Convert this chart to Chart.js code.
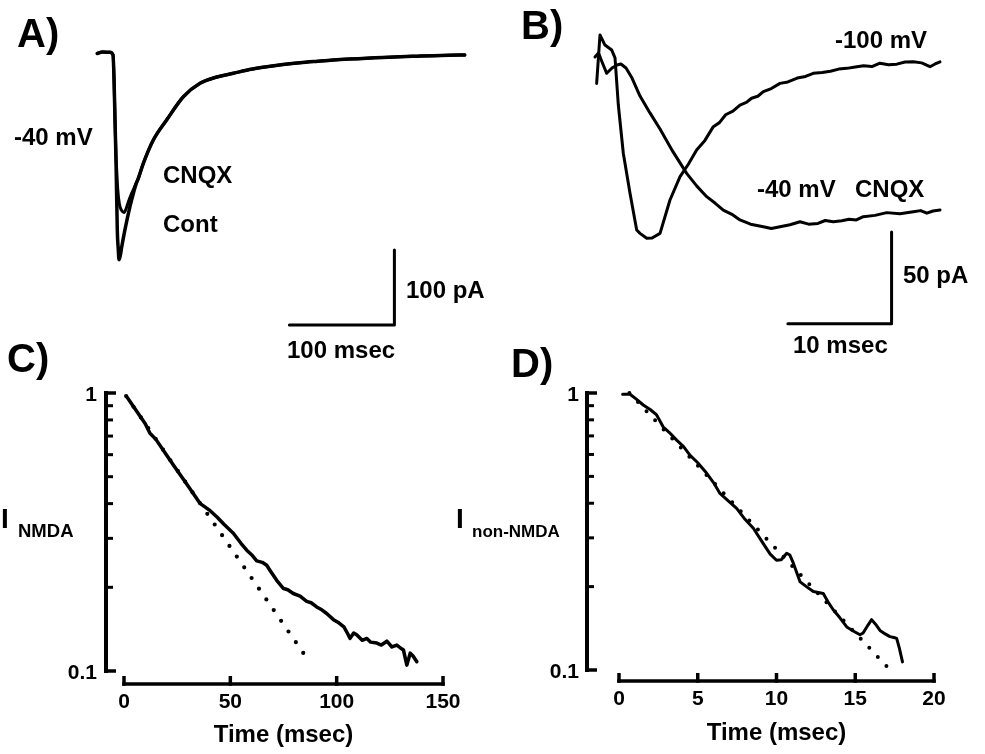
<!DOCTYPE html>
<html>
<head>
<meta charset="utf-8">
<script src="https://cdn.jsdelivr.net/npm/chart.js@4/dist/chart.umd.min.js"></script>
<style>
  html, body { margin: 0; padding: 0; background: #fff; }
  #fig { position: relative; width: 985px; height: 754px; overflow: hidden; background: #fff; }
  #fig canvas { position: absolute; left: 0; top: 0; }
</style>
</head>
<body>
<div id="fig">
  <canvas id="panelA" width="985" height="754"></canvas>
  <canvas id="panelB" width="985" height="754"></canvas>
  <canvas id="panelC" width="985" height="754"></canvas>
  <canvas id="panelD" width="985" height="754"></canvas>
</div>
<script>
// ---- Panel A: EPSC at -40 mV, control vs CNQX (time in ms, current in pA) ----
const aContHeadT = [-15, -10, -3, 0, 1, 2, 2.9, 4.1, 5.0, 5.7, 7.0, 8.3, 11.4, 16.2, 19.3, 22];
const aContHeadI = [-1, 1, 0.5, -3, -36, -95, -147, -237, -262, -276, -270, -259, -236, -205, -188, -175];
const aCnqxHeadT = [-15, -10, -3, 0, 1, 2, 2.9, 3.5, 4.5, 6.0, 8.0, 10.5, 12.5, 14.6, 17.0, 19.3, 22];
const aCnqxHeadI = [-1, 1, 0.5, -3, -36, -95, -140, -156, -182, -201, -210, -213, -208, -199, -190, -183, -174];
const aTailT = [24, 28.9, 38.4, 51.1, 67, 82.9, 100, 114.6, 130, 146.4, 162, 178, 195, 209.8, 225, 241.6, 257, 273.3, 290, 305, 320, 335];
const aTailI = [-168, -147.5, -116.4, -89.7, -58.7, -40.8, -32, -27.5, -22.5, -18.7, -15.8, -13.3, -11.3, -9.7, -8.5, -7.5, -6.3, -5.3, -4.6, -4, -3.5, -3.1];
const aBarT = [168, 268, 268];      // 100 msec
const aBarI = [-363, -363, -263];   // 100 pA

// ---- Panel B: -100 mV vs -40 mV in CNQX ----
const bFastT = [0.16, 0.48, 0.96, 1.61, 1.93, 2.25, 2.73, 3.38, 4.02, 4.34, 4.99, 5.5, 6.27, 7.23, 8.2, 9.0, 9.8, 10.6, 11.41, 12.0, 12.6, 13.3, 13.98, 14.6, 15.1, 15.7, 16.23, 17.0, 17.84, 18.6, 19.5, 20.3, 21.05, 21.9, 22.7, 23.5, 24.27, 25.1, 25.9, 26.7, 27.48, 28.3, 29.1, 29.9, 30.7, 31.5, 32.3, 32.8, 33.27];
const bFastI = [-26.4, 0, -5.5, -8.2, -12.5, -38.2, -64.5, -86.4, -106.4, -108.2, -110.9, -110.7, -108.2, -90, -77.3, -70.5, -62.7, -57.5, -50, -47.8, -43.5, -41.5, -38.2, -36.8, -34.5, -33.4, -30.9, -29.2, -26.4, -25.6, -23.5, -22.6, -20.9, -20.5, -19.8, -18.6, -18.2, -17.4, -16.8, -17.2, -15.4, -16.2, -15.9, -14.7, -14.6, -15.2, -17.3, -15.8, -14.6];
const bSlowT = [0, 0.34, 0.68, 1.13, 1.64, 2.12, 2.5, 2.99, 3.57, 4.34, 5.3, 6.27, 7.5, 8.84, 9.8, 10.77, 11.6, 12.37, 13.2, 13.98, 15.0, 16.23, 17.0, 17.84, 18.8, 19.77, 20.6, 21.5, 22.2, 22.98, 23.8, 24.5, 25.2, 25.87, 27.0, 28.13, 29.4, 30.7, 31.4, 32.0, 32.6, 33.27];
const bSlowI = [-12, -9.8, -14.7, -20.9, -18, -16.4, -15.8, -18, -23.5, -33.3, -42.5, -51.3, -63.5, -75.5, -82.3, -88.2, -91.8, -95.5, -97.8, -100.9, -103.2, -104.6, -105.6, -104.6, -103.5, -101.9, -103.2, -102.8, -101.2, -101.9, -101.3, -100.5, -100.9, -99.1, -98.4, -96.9, -97.5, -96.4, -95.8, -97.2, -96.0, -95.5];
const bBarT = [18.6, 28.6, 28.6];    // 10 msec
const bBarI = [-157.5, -157.5, -107.5]; // 50 pA

// ---- Panel C: normalised NMDA current decay ----
const cT = [1.3, 5, 10, 12.2, 15, 20, 23.2, 28, 32, 35.7, 40, 43.6, 47, 51.4, 55, 57.7, 60, 62.4, 65, 67.1, 69, 71.8, 75, 77, 79.6, 82.8, 85.9, 88, 90.6, 93, 95.3, 98.5, 101, 103.4, 105, 106.3, 108, 109.4, 112, 114.2, 116, 118.9, 121, 123.6, 126, 128.3, 130, 131.4, 133, 134.6, 136, 137.7];
const cI = [0.97, 0.882, 0.775, 0.716, 0.681, 0.598, 0.551, 0.488, 0.441, 0.401, 0.38, 0.359, 0.337, 0.313, 0.288, 0.272, 0.262, 0.249, 0.246, 0.240, 0.228, 0.212, 0.198, 0.196, 0.19, 0.186, 0.178, 0.176, 0.170, 0.166, 0.161, 0.153, 0.149, 0.144, 0.137, 0.131, 0.137, 0.135, 0.129, 0.131, 0.127, 0.126, 0.124, 0.128, 0.122, 0.124, 0.121, 0.119, 0.105, 0.116, 0.113, 0.108];
const cFitT = [1, 87.5];
const cFitI = [0.975, 0.107];
const cXTicks = [0, 50, 100, 150];
const cYMajor = [1, 0.1];
const cYMajorLabels = ['1', '0.1'];
const cYMinor = [0.9, 0.8, 0.7, 0.6, 0.5, 0.4, 0.3, 0.2];

// ---- Panel D: normalised non-NMDA current decay ----
const dT = [0.23, 0.7, 1.1, 1.54, 2.0, 2.39, 2.8, 3.2, 3.66, 4.1, 4.5, 5.0, 5.57, 6.0, 6.41, 6.9, 7.47, 8.0, 8.53, 9.16, 9.6, 10.0, 10.3, 10.65, 10.85, 11.07, 11.5, 11.9, 12.34, 12.97, 13.3, 13.6, 14.0, 14.46, 14.9, 15.3, 15.5, 15.8, 16.04, 16.3, 16.57, 16.9, 17.2, 17.45, 17.63, 17.8, 18.0];
const dI = [0.99, 0.99, 0.95, 0.905, 0.87, 0.833, 0.755, 0.72, 0.676, 0.64, 0.597, 0.56, 0.513, 0.475, 0.434, 0.41, 0.383, 0.35, 0.325, 0.286, 0.262, 0.249, 0.25, 0.264, 0.26, 0.243, 0.208, 0.2, 0.192, 0.189, 0.175, 0.165, 0.155, 0.143, 0.138, 0.134, 0.136, 0.145, 0.152, 0.146, 0.139, 0.135, 0.132, 0.131, 0.130, 0.12, 0.107];
const dFitT = [0.66, 17.0];
const dFitI = [1.0, 0.103];
const dXTicks = [0, 5, 10, 15, 20];
const dYMajor = [1, 0.1];
const dYMajorLabels = ['1', '0.1'];
const dYMinor = [0.9, 0.8, 0.7, 0.6, 0.5, 0.4, 0.3, 0.2];

const FAMILY = '"Liberation Sans", Arial, Helvetica, sans-serif';
const INK = '#000';

function pts(xs, ys) { return xs.map((x, i) => ({ x: x, y: ys[i] })); }

// Draws the hand-made axes, scale-bar captions and panel annotations.
const decor = {
  id: 'decor',
  afterDatasetsDraw(chart, args, o) {
    const ctx = chart.ctx;
    ctx.save();
    ctx.fillStyle = INK;
    ctx.strokeStyle = INK;
    if (o.logAxis) {
      const a = o.logAxis, ys = chart.scales.y;
      const top = ys.getPixelForValue(ys.max), bot = ys.getPixelForValue(ys.min);
      ctx.lineWidth = a.width;
      ctx.lineCap = 'butt';
      ctx.beginPath();
      ctx.moveTo(a.x, top - a.width / 2);
      ctx.lineTo(a.x, bot + a.width / 2);
      ctx.stroke();
      ctx.lineWidth = a.majorWidth;
      a.major.forEach(v => {
        const y = ys.getPixelForValue(v);
        ctx.beginPath(); ctx.moveTo(a.x, y); ctx.lineTo(a.x + a.majorLen, y); ctx.stroke();
      });
      ctx.lineWidth = a.minorWidth;
      a.minor.forEach(v => {
        const y = ys.getPixelForValue(v);
        ctx.beginPath(); ctx.moveTo(a.x, y); ctx.lineTo(a.x + a.minorLen, y); ctx.stroke();
      });
      ctx.font = a.font;
      ctx.textAlign = 'right';
      ctx.textBaseline = 'alphabetic';
      a.major.forEach((v, i) => {
        ctx.fillText(a.labels[i], a.x - a.gap, ys.getPixelForValue(v) + a.baseShift);
      });
    }
    if (o.timeAxis) {
      const a = o.timeAxis, xs = chart.scales.x;
      const l = xs.getPixelForValue(a.ticks[0]), r = xs.getPixelForValue(a.ticks[a.ticks.length - 1]);
      ctx.lineWidth = a.width;
      ctx.lineCap = 'butt';
      ctx.beginPath();
      ctx.moveTo(l - a.width / 2, a.y);
      ctx.lineTo(r + a.width / 2, a.y);
      ctx.stroke();
      a.ticks.forEach(v => {
        const x = xs.getPixelForValue(v);
        ctx.beginPath(); ctx.moveTo(x, a.y + a.width / 2); ctx.lineTo(x, a.y - a.tickLen); ctx.stroke();
      });
      ctx.font = a.font;
      ctx.textAlign = 'center';
      ctx.textBaseline = 'alphabetic';
      a.ticks.forEach(v => ctx.fillText(String(v), xs.getPixelForValue(v), a.y + a.labelShift));
      ctx.font = a.titleFont;
      ctx.fillText(a.title, (l + r) / 2, a.titleY);
    }
    (o.texts || []).forEach(t => {
      ctx.font = t.font;
      ctx.textAlign = t.align || 'left';
      ctx.textBaseline = 'alphabetic';
      ctx.fillText(t.text, t.x, t.y);
    });
    ctx.restore();
  }
};

const big = 'bold 40px ' + FAMILY;
const txt = 'bold 24px ' + FAMILY;
const tick = 'bold 21px ' + FAMILY;
const ilab = 'bold 28px ' + FAMILY;
const sub = 'bold 17px ' + FAMILY;
const subWide = 'bold 18.5px ' + FAMILY;

function trace(data, width) {
  return { data: data, borderColor: INK, borderWidth: width, pointRadius: 0, fill: false,
           tension: 0, borderJoinStyle: 'round', borderCapStyle: 'round', clip: false };
}
function smooth(data, width) {
  const d = trace(data, width);
  d.cubicInterpolationMode = 'monotone';
  return d;
}
function dotted(data, width, gap) {
  const d = trace(data, width);
  d.borderDash = [0, gap];
  d.borderCapStyle = 'round';
  return d;
}

function makeChart(id, datasets, scales, padding, decorOpts) {
  return new Chart(document.getElementById(id), {
    type: 'line',
    data: { datasets: datasets },
    options: {
      responsive: false,
      animation: false,
      events: [],
      layout: { padding: padding },
      scales: scales,
      plugins: { legend: { display: false }, tooltip: { enabled: false }, decor: decorOpts }
    },
    plugins: [decor]
  });
}

// Panel A
makeChart('panelA',
  [
    smooth(pts(aContHeadT.concat(aTailT), aContHeadI.concat(aTailI)), 3.5),
    smooth(pts(aCnqxHeadT.concat(aTailT), aCnqxHeadI.concat(aTailI)), 3),
    trace(pts(aBarT, aBarI), 3)
  ],
  {
    x: { type: 'linear', min: -20, max: 350, display: false },
    y: { type: 'linear', min: -370, max: 10, display: false }
  },
  { left: 92, right: 504.5, top: 45.2, bottom: 423.8 },
  {
    texts: [
      { text: 'A)', x: 17, y: 47, font: big },
      { text: '-40 mV', x: 14, y: 145, font: txt },
      { text: 'CNQX', x: 163, y: 183, font: txt },
      { text: 'Cont', x: 163, y: 232, font: txt },
      { text: '100 pA', x: 406, y: 298, font: txt },
      { text: '100 msec', x: 287, y: 358, font: txt }
    ]
  });

// Panel B
makeChart('panelB',
  [
    trace(pts(bFastT, bFastI), 3),
    trace(pts(bSlowT, bSlowI), 3),
    trace(pts(bBarT, bBarI), 3)
  ],
  {
    x: { type: 'linear', min: 0, max: 35, display: false },
    y: { type: 'linear', min: -160, max: 0, display: false }
  },
  { left: 595, right: 27.05, top: 35, bottom: 425.7 },
  {
    texts: [
      { text: 'B)', x: 521, y: 39, font: big },
      { text: '-100 mV', x: 835, y: 48, font: txt },
      { text: '-40 mV', x: 757, y: 197, font: txt },
      { text: 'CNQX', x: 855, y: 197, font: txt },
      { text: '50 pA', x: 903, y: 283, font: txt },
      { text: '10 msec', x: 793, y: 353, font: txt }
    ]
  });

// Panel C
makeChart('panelC',
  [
    trace(pts(cT, cI), 3.5),
    dotted(pts(cFitT, cFitI), 4.2, 13)
  ],
  {
    x: { type: 'linear', min: 0, max: 150, display: false },
    y: { type: 'logarithmic', min: 0.1, max: 1, display: false }
  },
  { left: 124, right: 542, top: 393, bottom: 83 },
  {
    logAxis: { x: 106, width: 4, majorWidth: 3.5, minorWidth: 3, major: cYMajor, labels: cYMajorLabels, minor: cYMinor,
               majorLen: 10, minorLen: 7, gap: 9, baseShift: 7.5, font: tick },
    timeAxis: { y: 684, width: 3.5, ticks: cXTicks, tickLen: 8, labelShift: 24, font: tick,
                title: 'Time (msec)', titleY: 742, titleFont: txt },
    texts: [
      { text: 'C)', x: 7, y: 372, font: big },
      { text: 'I', x: 1, y: 528, font: ilab },
      { text: 'NMDA', x: 18, y: 537, font: subWide }
    ]
  });

// Panel D
makeChart('panelD',
  [
    trace(pts(dT, dI), 3),
    dotted(pts(dFitT, dFitI), 4, 12.5)
  ],
  {
    x: { type: 'linear', min: 0, max: 20, display: false },
    y: { type: 'logarithmic', min: 0.1, max: 1, display: false }
  },
  { left: 619, right: 51, top: 393, bottom: 84 },
  {
    logAxis: { x: 587, width: 4, majorWidth: 3.5, minorWidth: 3, major: dYMajor, labels: dYMajorLabels, minor: dYMinor,
               majorLen: 10, minorLen: 7, gap: 8, baseShift: 7.5, font: tick },
    timeAxis: { y: 681, width: 3.5, ticks: dXTicks, tickLen: 8, labelShift: 24, font: tick,
                title: 'Time (msec)', titleY: 740, titleFont: txt },
    texts: [
      { text: 'D)', x: 511, y: 377, font: big },
      { text: 'I', x: 456, y: 528, font: ilab },
      { text: 'non-NMDA', x: 472, y: 537, font: sub }
    ]
  });
</script>
</body>
</html>
